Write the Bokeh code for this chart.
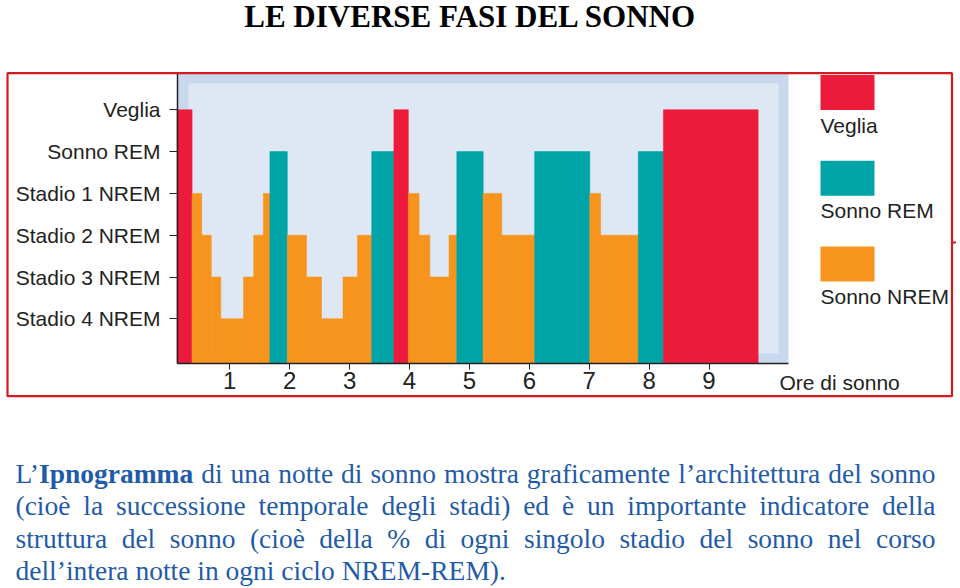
from bokeh.plotting import figure
from bokeh.models import Range1d, FixedTicker, BoxAnnotation, Label, LabelSet, ColumnDataSource
from bokeh.core.properties import value, field
from bokeh.embed import file_html
from bokeh.resources import INLINE

# ---------------- data ----------------
title_text = "LE DIVERSE FASI DEL SONNO"
stage_labels = ["Stadio 4 NREM", "Stadio 3 NREM", "Stadio 2 NREM",
                "Stadio 1 NREM", "Sonno REM", "Veglia"]
stage_levels = [1, 2, 3, 4, 5, 6]
hour_ticks = [1, 2, 3, 4, 5, 6, 7, 8, 9]
x_axis_label = "Ore di sonno"

# hypnogram segments (start hour, stage)
seg_start = [0.12, 0.37, 0.53, 0.69, 0.85, 1.23, 1.40, 1.56, 1.67, 1.96,
             2.28, 2.53, 2.89, 3.13, 3.37, 3.74, 3.98, 4.16, 4.34, 4.66,
             4.79, 5.23, 5.54, 6.09, 7.01, 7.19, 7.82, 8.24]
seg_last_end = 9.82
seg_stage = ["Veglia", "Stadio 1 NREM", "Stadio 2 NREM", "Stadio 3 NREM",
             "Stadio 4 NREM", "Stadio 3 NREM", "Stadio 2 NREM", "Stadio 1 NREM",
             "Sonno REM", "Stadio 2 NREM", "Stadio 3 NREM", "Stadio 4 NREM",
             "Stadio 3 NREM", "Stadio 2 NREM", "Sonno REM", "Veglia",
             "Stadio 1 NREM", "Stadio 2 NREM", "Stadio 3 NREM", "Stadio 2 NREM",
             "Sonno REM", "Stadio 1 NREM", "Stadio 2 NREM", "Sonno REM",
             "Stadio 1 NREM", "Stadio 2 NREM", "Sonno REM", "Veglia"]

legend_labels = ["Veglia", "Sonno REM", "Sonno NREM"]
legend_colors = ["#EC1B3B", "#00A4A6", "#F7941E"]

paragraph_lines = [
    "L\u2019Ipnogramma di una notte di sonno mostra graficamente l\u2019architettura del sonno",
    "(cio\u00e8 la successione temporale degli stadi) ed \u00e8 un importante indicatore della",
    "struttura del sonno (cio\u00e8 della % di ogni singolo stadio del sonno nel corso",
    "dell\u2019intera notte in ogni ciclo NREM-REM).",
]
paragraph_justify = [True, True, True, False]
bold_word = "Ipnogramma"

# chart extents (hours, stage level)
CX0, CX1 = 0.127, 10.327
CY0, CY1 = -0.069, 6.869

# ---------------- layout (page pixels) ----------------
W, H = 960, 588
FL, FR, FT, FB = 177, 788, 73, 363          # chart area edges on the page


def dx(px):
    return CX0 + (px - FL) * (CX1 - CX0) / (FR - FL)


def dy(py):
    return CY0 + (FB - py) * (CY1 - CY0) / (FB - FT)


p = figure(width=W, height=H, output_backend="svg", toolbar_location=None,
           x_range=Range1d(dx(0), dx(W)), y_range=Range1d(dy(H), dy(0)),
           min_border=0)
p.min_border_left = 0
p.min_border_right = 0
p.min_border_top = 0
p.min_border_bottom = 0
p.grid.visible = False
p.outline_line_color = None
p.background_fill_color = "white"
p.border_fill_color = "white"

# chart panel (outer darker band + inner lighter panel)
p.add_layout(BoxAnnotation(left=CX0, right=CX1, bottom=CY0, top=CY1,
                           fill_color="#c9d8ec", fill_alpha=1, line_color=None,
                           level="underlay"))
p.add_layout(BoxAnnotation(left=dx(188), right=dx(778), bottom=dy(353), top=dy(83),
                           fill_color="#dee8f5", fill_alpha=1, line_color=None,
                           level="underlay"))

# bars
level_of = dict(zip(stage_labels, stage_levels))


def color_of(stage):
    if stage == "Veglia":
        return legend_colors[0]
    if stage == "Sonno REM":
        return legend_colors[1]
    return legend_colors[2]


seg_end = seg_start[1:] + [seg_last_end]
src = ColumnDataSource(dict(
    left=seg_start, right=seg_end,
    top=[level_of[s] for s in seg_stage],
    color=[color_of(s) for s in seg_stage],
))
p.quad(left="left", right="right", top="top", bottom=CY0, source=src,
       fill_color="color", line_color="color", line_width=0.6)

# axes (placed inside the canvas at the chart origin)
ax_col = "#222222"
p.xaxis.fixed_location = CY0
p.xaxis.bounds = (CX0, CX1)
p.xaxis.ticker = FixedTicker(ticks=hour_ticks)
p.xaxis.minor_tick_line_color = None
p.xaxis.major_tick_in = 0
p.xaxis.major_tick_out = 6
p.xaxis.axis_line_width = 1.5
p.xaxis.axis_line_color = ax_col
p.xaxis.major_tick_line_color = ax_col
p.xaxis.major_label_text_font = "Liberation Sans"
p.xaxis.major_label_text_font_size = "24px"
p.xaxis.major_label_text_color = ax_col
p.xaxis.major_label_standoff = 2

p.yaxis.fixed_location = CX0
p.yaxis.bounds = (CY0, CY1)
p.yaxis.ticker = FixedTicker(ticks=stage_levels)
p.yaxis.major_label_overrides = {lv: lab for lv, lab in zip(stage_levels, stage_labels)}
p.yaxis.minor_tick_line_color = None
p.yaxis.major_tick_in = 0
p.yaxis.major_tick_out = 8
p.yaxis.axis_line_width = 1.5
p.yaxis.axis_line_color = ax_col
p.yaxis.major_tick_line_color = ax_col
p.yaxis.major_label_text_font = "Liberation Sans"
p.yaxis.major_label_text_font_size = "21px"
p.yaxis.major_label_text_color = ax_col
p.yaxis.major_label_standoff = 9

# x axis label at right end
p.add_layout(Label(x=dx(779), y=dy(381.5), text=x_axis_label, text_align="left",
                   text_baseline="middle", text_font="Liberation Sans",
                   text_font_size="21px", text_color=ax_col))

# legend
for i, (lab, col) in enumerate(zip(legend_labels, legend_colors)):
    top = 74.5 + i * 85.7
    p.add_layout(BoxAnnotation(left=dx(820), right=dx(874), top=dy(top), bottom=dy(top + 35),
                               fill_color=col, fill_alpha=1, line_color=None))
    p.add_layout(Label(x=dx(820), y=dy(124.5 + i * 85.8), text=lab, text_align="left",
                       text_baseline="middle", text_font="Liberation Sans",
                       text_font_size="21px", text_color=ax_col))

# red frame (+ small stray tick on its right edge)
frame_red = "#d41a20"
p.add_layout(BoxAnnotation(left=dx(7), right=dx(951.5), top=dy(72.7), bottom=dy(395.7),
                           fill_color=None, fill_alpha=0, line_color=frame_red,
                           line_alpha=1, line_width=2.2, level="overlay"))
p.add_layout(BoxAnnotation(left=dx(951.5), right=dx(955.5), top=dy(241), bottom=dy(243),
                           fill_color=frame_red, fill_alpha=1, line_color=None,
                           level="overlay"))

# title
p.add_layout(Label(x=dx(470), y=dy(16), text=title_text, text_align="center",
                   text_baseline="middle", text_font="Liberation Serif",
                   text_font_style="bold", text_font_size="31px", text_color="black"))

# paragraph (justified, Times metrics)
TR = {" ": 250, "a": 444, "b": 500, "c": 444, "d": 500, "e": 444, "f": 333, "g": 500,
      "h": 500, "i": 278, "j": 278, "k": 500, "l": 278, "m": 778, "n": 500, "o": 500,
      "p": 500, "q": 500, "r": 333, "s": 389, "t": 278, "u": 500, "v": 500, "w": 722,
      "x": 500, "y": 500, "z": 444, "\u00e8": 444, "(": 333, ")": 333, "%": 833,
      "-": 333, ".": 250, "\u2019": 333, "E": 611, "I": 333, "L": 611, "M": 889,
      "N": 722, "R": 667}
TB = {"I": 389, "p": 556, "n": 556, "o": 500, "g": 500, "r": 444, "a": 500, "m": 833}
FS = 27.5
KERN = 2.5   # tighten the join between runs inside one word


def tw(s, bold):
    tab = TB if bold else TR
    return sum(tab.get(c, TR.get(c, 500)) for c in s) * FS / 1000.0


P_LEFT, P_RIGHT = 15, 935
baselines = [482, 514.5, 547, 579]
px_, py_, ptext, pstyle = [], [], [], []
for line, just, base in zip(paragraph_lines, paragraph_justify, baselines):
    words = line.split(" ")
    runs_per_word = []
    for w in words:
        if bold_word in w:
            k = w.index(bold_word)
            runs = []
            if k > 0:
                runs.append((w[:k], False))
            runs.append((bold_word, True))
            if w[k + len(bold_word):]:
                runs.append((w[k + len(bold_word):], False))
        else:
            runs = [(w, False)]
        runs_per_word.append(runs)
    widths = [sum(tw(t, b) for t, b in r) - KERN * (len(r) - 1) for r in runs_per_word]
    if just and len(words) > 1:
        gap = (P_RIGHT - P_LEFT - sum(widths)) / (len(words) - 1)
    else:
        gap = tw(" ", False)
    x = P_LEFT
    for runs, wd in zip(runs_per_word, widths):
        xr = x
        for j, (t, b) in enumerate(runs):
            if j > 0:
                xr -= KERN
            px_.append(dx(xr))
            py_.append(dy(base))
            ptext.append(t)
            pstyle.append("bold" if b else "normal")
            xr += tw(t, b)
        x += wd + gap

psrc = ColumnDataSource(dict(x=px_, y=py_, text=ptext, style=pstyle))
p.add_layout(LabelSet(x="x", y="y", text="text", source=psrc,
                      text_font=value("Liberation Serif"), text_font_style=field("style"),
                      text_font_size=value("%gpx" % FS), text_color="#1f5ba8",
                      text_align="left", text_baseline="alphabetic"))

open("out.html", "w").write(file_html(p, INLINE))
